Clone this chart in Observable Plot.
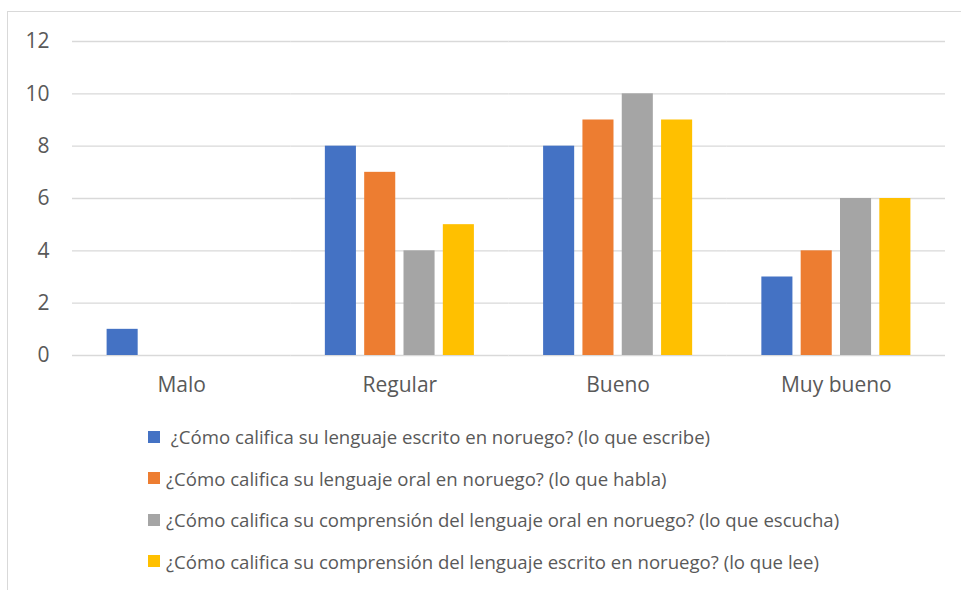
<!DOCTYPE html>
<html><head><meta charset="utf-8">
<script src="https://cdn.jsdelivr.net/npm/d3@7"></script>
<script src="https://cdn.jsdelivr.net/npm/@observablehq/plot@0.6"></script>
<style>
html,body{margin:0;padding:0;width:961px;height:590px;overflow:hidden;background:#fff;font-family:"Open Sans",sans-serif;}
#frame{position:absolute;left:7px;top:11px;width:1100px;height:700px;border:1px solid #d9d9d9;box-sizing:border-box;}
#chart{position:absolute;left:0;top:0;}
#legend{position:absolute;left:148px;top:416px;color:#595959;font-size:18.6px;}
.row{height:41.5px;display:flex;align-items:center;white-space:pre;}
.sw{width:12px;height:12px;margin-right:6px;flex:none;}
</style>
</head><body>
<div id="frame"></div>
<div id="chart"></div>
<div id="legend"></div>
<script>
const categories = ["Malo", "Regular", "Bueno", "Muy bueno"];
const series = [
  " ¿Cómo califica su lenguaje escrito en noruego? (lo que escribe)",
  "¿Cómo califica su lenguaje oral en noruego? (lo que habla)",
  "¿Cómo califica su comprensión del lenguaje oral en noruego? (lo que escucha)",
  "¿Cómo califica su comprensión del lenguaje escrito en noruego? (lo que lee)"
];
const colors = ["#4472C4", "#ED7D31", "#A5A5A5", "#FFC000"];
const escrito = [1, 8, 8, 3];
const oral = [0, 7, 9, 4];
const comprensionOral = [0, 4, 10, 6];
const comprensionEscrito = [0, 5, 9, 6];
const yTicks = [0, 2, 4, 6, 8, 10, 12];

const seriesValues = [escrito, oral, comprensionOral, comprensionEscrito];
const data = [];
categories.forEach((c, i) => {
  series.forEach((s, j) => {
    data.push({cat: c, series: s, value: seriesValues[j][i]});
  });
});

const chart = Plot.plot({
  width: 961,
  height: 410,
  marginLeft: 72,
  marginRight: 16,
  marginTop: 41,
  marginBottom: 55,
  style: {fontFamily: "'Open Sans', sans-serif", fontSize: "21px", color: "#595959", background: "transparent"},
  fx: {domain: categories, padding: 0, round: false, label: null, tickSize: 0, tickPadding: 22},
  x: {domain: series, axis: null, paddingInner: 0.21, paddingOuter: 0.88, round: false},
  y: {domain: [0, 12], ticks: yTicks, tickSize: 0, tickPadding: 23, label: null},
  color: {domain: series, range: colors},
  marks: [
    Plot.gridY(yTicks, {stroke: "#d9d9d9", strokeOpacity: 1, strokeWidth: 1.3}),
    Plot.barY(data.filter(d => d.value > 0), {fx: "cat", x: "series", y: "value", fill: "series"})
  ]
});
document.getElementById("chart").appendChild(chart);

const legend = document.getElementById("legend");
series.forEach((s, j) => {
  const row = document.createElement("div");
  row.className = "row";
  const sw = document.createElement("span");
  sw.className = "sw";
  sw.style.background = colors[j];
  const t = document.createElement("span");
  t.textContent = s;
  row.appendChild(sw);
  row.appendChild(t);
  legend.appendChild(row);
});
</script>
</body></html>
